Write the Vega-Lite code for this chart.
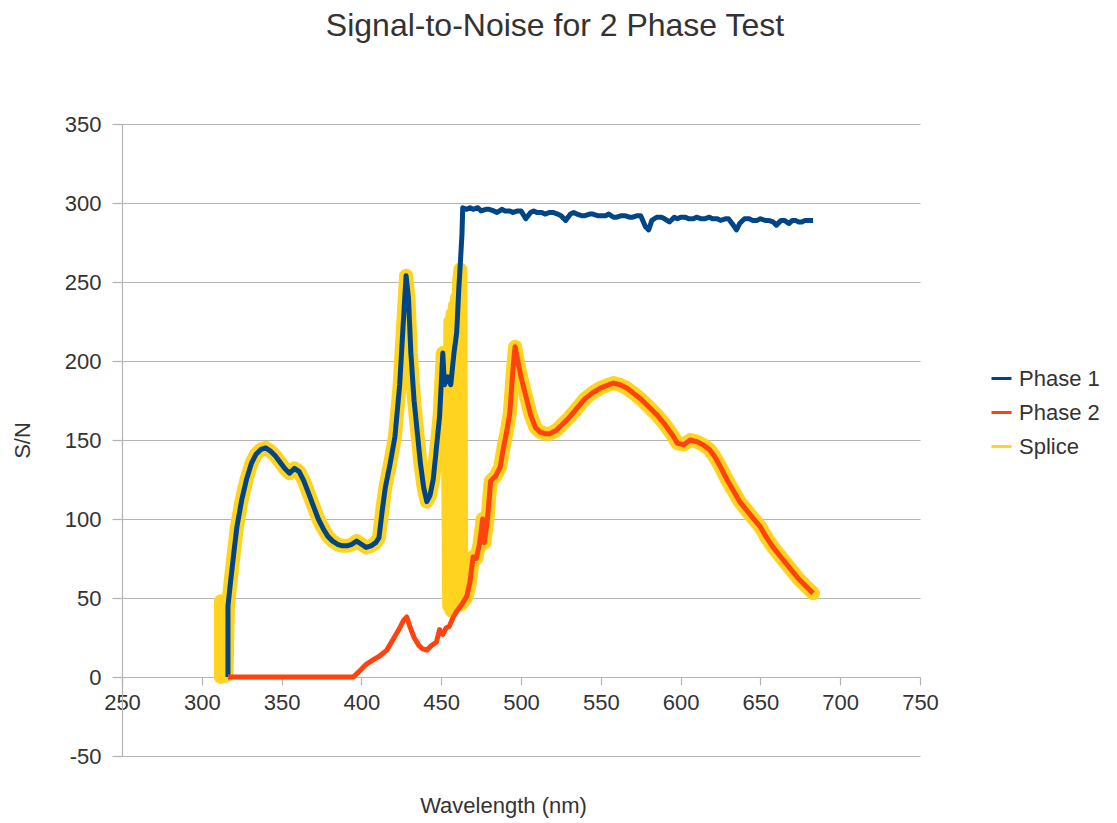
{
  "$schema": "https://vega.github.io/schema/vega-lite/v6.json",
  "width": 798,
  "height": 632,
  "autosize": {"type": "none"},
  "padding": {"left": 122, "top": 124, "right": 197, "bottom": 67},
  "background": "white",
  "title": {
    "text": "Signal-to-Noise for 2 Phase Test",
    "fontSize": 32,
    "font": "Liberation Sans",
    "fontWeight": "normal",
    "color": "#333333",
    "anchor": "middle",
    "frame": "group",
    "dx": 34,
    "offset": 70
  },
  "config": {
    "view": {"stroke": null},
    "font": "Liberation Sans",
    "axis": {
      "labelFont": "Liberation Sans",
      "titleFont": "Liberation Sans",
      "labelColor": "#333333",
      "titleColor": "#333333",
      "labelFontSize": 22,
      "titleFontSize": 22,
      "titleFontWeight": "normal",
      "gridColor": "#b3b3b3",
      "domainColor": "#b3b3b3",
      "tickColor": "#b3b3b3",
      "gridWidth": 1.2,
      "domainWidth": 1.2,
      "tickWidth": 1.2,
      "labelFlush": false,
      "labelOverlap": false
    }
  },
  "data": {
    "values": [
      {"series": "Phase 1", "wl": 316.4, "sn": 0},
      {"series": "Phase 1", "wl": 316.4, "sn": 45},
      {"series": "Phase 1", "wl": 318, "sn": 60},
      {"series": "Phase 1", "wl": 320, "sn": 78},
      {"series": "Phase 1", "wl": 322, "sn": 95},
      {"series": "Phase 1", "wl": 325, "sn": 112},
      {"series": "Phase 1", "wl": 328, "sn": 125},
      {"series": "Phase 1", "wl": 331, "sn": 135},
      {"series": "Phase 1", "wl": 334, "sn": 141},
      {"series": "Phase 1", "wl": 337, "sn": 144},
      {"series": "Phase 1", "wl": 340, "sn": 145},
      {"series": "Phase 1", "wl": 343, "sn": 143},
      {"series": "Phase 1", "wl": 346, "sn": 140},
      {"series": "Phase 1", "wl": 349, "sn": 136},
      {"series": "Phase 1", "wl": 352, "sn": 132},
      {"series": "Phase 1", "wl": 355, "sn": 129},
      {"series": "Phase 1", "wl": 358, "sn": 132},
      {"series": "Phase 1", "wl": 361, "sn": 130},
      {"series": "Phase 1", "wl": 364, "sn": 124},
      {"series": "Phase 1", "wl": 367, "sn": 116},
      {"series": "Phase 1", "wl": 370, "sn": 108},
      {"series": "Phase 1", "wl": 373, "sn": 100},
      {"series": "Phase 1", "wl": 376, "sn": 94},
      {"series": "Phase 1", "wl": 379, "sn": 89},
      {"series": "Phase 1", "wl": 382, "sn": 86},
      {"series": "Phase 1", "wl": 385, "sn": 84},
      {"series": "Phase 1", "wl": 388, "sn": 83},
      {"series": "Phase 1", "wl": 391, "sn": 83},
      {"series": "Phase 1", "wl": 394, "sn": 84},
      {"series": "Phase 1", "wl": 397, "sn": 86},
      {"series": "Phase 1", "wl": 400, "sn": 84},
      {"series": "Phase 1", "wl": 403, "sn": 82},
      {"series": "Phase 1", "wl": 406, "sn": 83},
      {"series": "Phase 1", "wl": 409, "sn": 85},
      {"series": "Phase 1", "wl": 411, "sn": 88},
      {"series": "Phase 1", "wl": 413, "sn": 105},
      {"series": "Phase 1", "wl": 415, "sn": 120},
      {"series": "Phase 1", "wl": 418, "sn": 135},
      {"series": "Phase 1", "wl": 421, "sn": 152},
      {"series": "Phase 1", "wl": 424, "sn": 185},
      {"series": "Phase 1", "wl": 426, "sn": 220},
      {"series": "Phase 1", "wl": 428, "sn": 254},
      {"series": "Phase 1", "wl": 429.5, "sn": 240},
      {"series": "Phase 1", "wl": 431, "sn": 205},
      {"series": "Phase 1", "wl": 433, "sn": 175},
      {"series": "Phase 1", "wl": 435, "sn": 155},
      {"series": "Phase 1", "wl": 437, "sn": 135},
      {"series": "Phase 1", "wl": 439, "sn": 120},
      {"series": "Phase 1", "wl": 441, "sn": 111},
      {"series": "Phase 1", "wl": 443, "sn": 115},
      {"series": "Phase 1", "wl": 445, "sn": 125},
      {"series": "Phase 1", "wl": 447, "sn": 145},
      {"series": "Phase 1", "wl": 449, "sn": 165},
      {"series": "Phase 1", "wl": 451, "sn": 205},
      {"series": "Phase 1", "wl": 452, "sn": 185},
      {"series": "Phase 1", "wl": 454, "sn": 190},
      {"series": "Phase 1", "wl": 456, "sn": 185},
      {"series": "Phase 1", "wl": 458, "sn": 205},
      {"series": "Phase 1", "wl": 459.7, "sn": 218},
      {"series": "Phase 1", "wl": 461, "sn": 245},
      {"series": "Phase 1", "wl": 462, "sn": 262},
      {"series": "Phase 1", "wl": 463, "sn": 280},
      {"series": "Phase 1", "wl": 463.5, "sn": 297},
      {"series": "Phase 1", "wl": 466, "sn": 296},
      {"series": "Phase 1", "wl": 468, "sn": 297},
      {"series": "Phase 1", "wl": 470, "sn": 296},
      {"series": "Phase 1", "wl": 473, "sn": 297},
      {"series": "Phase 1", "wl": 475, "sn": 295},
      {"series": "Phase 1", "wl": 478, "sn": 296},
      {"series": "Phase 1", "wl": 480, "sn": 296},
      {"series": "Phase 1", "wl": 483, "sn": 295},
      {"series": "Phase 1", "wl": 485, "sn": 294},
      {"series": "Phase 1", "wl": 488, "sn": 296},
      {"series": "Phase 1", "wl": 490, "sn": 295},
      {"series": "Phase 1", "wl": 493, "sn": 295},
      {"series": "Phase 1", "wl": 495, "sn": 294},
      {"series": "Phase 1", "wl": 498, "sn": 295},
      {"series": "Phase 1", "wl": 500, "sn": 295},
      {"series": "Phase 1", "wl": 503, "sn": 290},
      {"series": "Phase 1", "wl": 506, "sn": 294},
      {"series": "Phase 1", "wl": 508, "sn": 295},
      {"series": "Phase 1", "wl": 510, "sn": 294},
      {"series": "Phase 1", "wl": 513, "sn": 294},
      {"series": "Phase 1", "wl": 515, "sn": 293},
      {"series": "Phase 1", "wl": 518, "sn": 294},
      {"series": "Phase 1", "wl": 520, "sn": 294},
      {"series": "Phase 1", "wl": 523, "sn": 293},
      {"series": "Phase 1", "wl": 525, "sn": 292},
      {"series": "Phase 1", "wl": 528, "sn": 289},
      {"series": "Phase 1", "wl": 531, "sn": 293},
      {"series": "Phase 1", "wl": 533, "sn": 294},
      {"series": "Phase 1", "wl": 535, "sn": 293},
      {"series": "Phase 1", "wl": 538, "sn": 292},
      {"series": "Phase 1", "wl": 540, "sn": 292},
      {"series": "Phase 1", "wl": 543, "sn": 293},
      {"series": "Phase 1", "wl": 545, "sn": 293},
      {"series": "Phase 1", "wl": 548, "sn": 292},
      {"series": "Phase 1", "wl": 550, "sn": 292},
      {"series": "Phase 1", "wl": 553, "sn": 292},
      {"series": "Phase 1", "wl": 555, "sn": 293},
      {"series": "Phase 1", "wl": 558, "sn": 291},
      {"series": "Phase 1", "wl": 560, "sn": 291},
      {"series": "Phase 1", "wl": 563, "sn": 292},
      {"series": "Phase 1", "wl": 565, "sn": 292},
      {"series": "Phase 1", "wl": 568, "sn": 291},
      {"series": "Phase 1", "wl": 570, "sn": 291},
      {"series": "Phase 1", "wl": 573, "sn": 292},
      {"series": "Phase 1", "wl": 575, "sn": 292},
      {"series": "Phase 1", "wl": 578, "sn": 285},
      {"series": "Phase 1", "wl": 580, "sn": 283},
      {"series": "Phase 1", "wl": 582, "sn": 289},
      {"series": "Phase 1", "wl": 585, "sn": 291},
      {"series": "Phase 1", "wl": 588, "sn": 291},
      {"series": "Phase 1", "wl": 590, "sn": 290},
      {"series": "Phase 1", "wl": 593, "sn": 288},
      {"series": "Phase 1", "wl": 596, "sn": 291},
      {"series": "Phase 1", "wl": 598, "sn": 290},
      {"series": "Phase 1", "wl": 600, "sn": 291},
      {"series": "Phase 1", "wl": 603, "sn": 291},
      {"series": "Phase 1", "wl": 605, "sn": 290},
      {"series": "Phase 1", "wl": 608, "sn": 290},
      {"series": "Phase 1", "wl": 610, "sn": 291},
      {"series": "Phase 1", "wl": 613, "sn": 290},
      {"series": "Phase 1", "wl": 615, "sn": 290},
      {"series": "Phase 1", "wl": 618, "sn": 291},
      {"series": "Phase 1", "wl": 620, "sn": 290},
      {"series": "Phase 1", "wl": 623, "sn": 290},
      {"series": "Phase 1", "wl": 625, "sn": 289},
      {"series": "Phase 1", "wl": 628, "sn": 290},
      {"series": "Phase 1", "wl": 630, "sn": 290},
      {"series": "Phase 1", "wl": 633, "sn": 286},
      {"series": "Phase 1", "wl": 635, "sn": 283},
      {"series": "Phase 1", "wl": 637, "sn": 287},
      {"series": "Phase 1", "wl": 640, "sn": 290},
      {"series": "Phase 1", "wl": 643, "sn": 290},
      {"series": "Phase 1", "wl": 645, "sn": 289},
      {"series": "Phase 1", "wl": 648, "sn": 289},
      {"series": "Phase 1", "wl": 650, "sn": 290},
      {"series": "Phase 1", "wl": 653, "sn": 289},
      {"series": "Phase 1", "wl": 655, "sn": 289},
      {"series": "Phase 1", "wl": 658, "sn": 288},
      {"series": "Phase 1", "wl": 660, "sn": 286},
      {"series": "Phase 1", "wl": 663, "sn": 289},
      {"series": "Phase 1", "wl": 665, "sn": 289},
      {"series": "Phase 1", "wl": 668, "sn": 287},
      {"series": "Phase 1", "wl": 670, "sn": 289},
      {"series": "Phase 1", "wl": 672, "sn": 289},
      {"series": "Phase 1", "wl": 674, "sn": 288},
      {"series": "Phase 1", "wl": 676, "sn": 288},
      {"series": "Phase 1", "wl": 678, "sn": 289},
      {"series": "Phase 1", "wl": 680, "sn": 289},
      {"series": "Phase 1", "wl": 683, "sn": 289},

      {"series": "Phase 2", "wl": 316.4, "sn": 0},
      {"series": "Phase 2", "wl": 395, "sn": 0},
      {"series": "Phase 2", "wl": 399, "sn": 4},
      {"series": "Phase 2", "wl": 403, "sn": 8},
      {"series": "Phase 2", "wl": 407.5, "sn": 11},
      {"series": "Phase 2", "wl": 411, "sn": 13},
      {"series": "Phase 2", "wl": 415.9, "sn": 17},
      {"series": "Phase 2", "wl": 420, "sn": 24},
      {"series": "Phase 2", "wl": 424, "sn": 31},
      {"series": "Phase 2", "wl": 426.5, "sn": 36},
      {"series": "Phase 2", "wl": 428.4, "sn": 38},
      {"series": "Phase 2", "wl": 430, "sn": 33},
      {"series": "Phase 2", "wl": 433, "sn": 25},
      {"series": "Phase 2", "wl": 436, "sn": 20},
      {"series": "Phase 2", "wl": 438, "sn": 18},
      {"series": "Phase 2", "wl": 441, "sn": 17},
      {"series": "Phase 2", "wl": 444, "sn": 20},
      {"series": "Phase 2", "wl": 447, "sn": 22},
      {"series": "Phase 2", "wl": 449, "sn": 30},
      {"series": "Phase 2", "wl": 451, "sn": 27},
      {"series": "Phase 2", "wl": 453, "sn": 31},
      {"series": "Phase 2", "wl": 455, "sn": 32},
      {"series": "Phase 2", "wl": 457.6, "sn": 38},
      {"series": "Phase 2", "wl": 460, "sn": 42},
      {"series": "Phase 2", "wl": 463, "sn": 46},
      {"series": "Phase 2", "wl": 466, "sn": 51},
      {"series": "Phase 2", "wl": 468, "sn": 60},
      {"series": "Phase 2", "wl": 470, "sn": 76},
      {"series": "Phase 2", "wl": 472, "sn": 75},
      {"series": "Phase 2", "wl": 474, "sn": 84},
      {"series": "Phase 2", "wl": 476, "sn": 100},
      {"series": "Phase 2", "wl": 477, "sn": 85},
      {"series": "Phase 2", "wl": 479, "sn": 100},
      {"series": "Phase 2", "wl": 481, "sn": 124},
      {"series": "Phase 2", "wl": 484, "sn": 127},
      {"series": "Phase 2", "wl": 487, "sn": 133},
      {"series": "Phase 2", "wl": 489, "sn": 145},
      {"series": "Phase 2", "wl": 491, "sn": 155},
      {"series": "Phase 2", "wl": 493, "sn": 167},
      {"series": "Phase 2", "wl": 495, "sn": 195},
      {"series": "Phase 2", "wl": 496.3, "sn": 209},
      {"series": "Phase 2", "wl": 498, "sn": 200},
      {"series": "Phase 2", "wl": 500, "sn": 190},
      {"series": "Phase 2", "wl": 503, "sn": 178},
      {"series": "Phase 2", "wl": 506, "sn": 166},
      {"series": "Phase 2", "wl": 509, "sn": 158},
      {"series": "Phase 2", "wl": 512, "sn": 155},
      {"series": "Phase 2", "wl": 515, "sn": 154},
      {"series": "Phase 2", "wl": 518, "sn": 154},
      {"series": "Phase 2", "wl": 522, "sn": 156},
      {"series": "Phase 2", "wl": 526, "sn": 160},
      {"series": "Phase 2", "wl": 530, "sn": 164},
      {"series": "Phase 2", "wl": 535, "sn": 170},
      {"series": "Phase 2", "wl": 540, "sn": 176},
      {"series": "Phase 2", "wl": 545, "sn": 180},
      {"series": "Phase 2", "wl": 550, "sn": 183},
      {"series": "Phase 2", "wl": 555, "sn": 185},
      {"series": "Phase 2", "wl": 558, "sn": 186},
      {"series": "Phase 2", "wl": 562, "sn": 185},
      {"series": "Phase 2", "wl": 566, "sn": 183},
      {"series": "Phase 2", "wl": 570, "sn": 180},
      {"series": "Phase 2", "wl": 575, "sn": 176},
      {"series": "Phase 2", "wl": 580, "sn": 171},
      {"series": "Phase 2", "wl": 585, "sn": 166},
      {"series": "Phase 2", "wl": 590, "sn": 160},
      {"series": "Phase 2", "wl": 595, "sn": 153},
      {"series": "Phase 2", "wl": 598, "sn": 148},
      {"series": "Phase 2", "wl": 602, "sn": 147},
      {"series": "Phase 2", "wl": 606, "sn": 150},
      {"series": "Phase 2", "wl": 610, "sn": 149},
      {"series": "Phase 2", "wl": 614, "sn": 147},
      {"series": "Phase 2", "wl": 618, "sn": 144},
      {"series": "Phase 2", "wl": 621, "sn": 140},
      {"series": "Phase 2", "wl": 625, "sn": 133},
      {"series": "Phase 2", "wl": 629, "sn": 125},
      {"series": "Phase 2", "wl": 633, "sn": 118},
      {"series": "Phase 2", "wl": 637, "sn": 111},
      {"series": "Phase 2", "wl": 641, "sn": 106},
      {"series": "Phase 2", "wl": 645, "sn": 101},
      {"series": "Phase 2", "wl": 650, "sn": 95},
      {"series": "Phase 2", "wl": 654, "sn": 88},
      {"series": "Phase 2", "wl": 658, "sn": 82},
      {"series": "Phase 2", "wl": 662, "sn": 77},
      {"series": "Phase 2", "wl": 666, "sn": 72},
      {"series": "Phase 2", "wl": 670, "sn": 67},
      {"series": "Phase 2", "wl": 674, "sn": 62},
      {"series": "Phase 2", "wl": 678, "sn": 58},
      {"series": "Phase 2", "wl": 683, "sn": 53},

      {"series": "Splice", "wl": 312, "sn": 0},
      {"series": "Splice", "wl": 312, "sn": 48},
      {"series": "Splice", "wl": 313.5, "sn": 2},
      {"series": "Splice", "wl": 314.5, "sn": 46},
      {"series": "Splice", "wl": 315.5, "sn": 1},
      {"series": "Splice", "wl": 316.4, "sn": 45},
      {"series": "Splice", "wl": 318, "sn": 60},
      {"series": "Splice", "wl": 320, "sn": 78},
      {"series": "Splice", "wl": 322, "sn": 95},
      {"series": "Splice", "wl": 325, "sn": 112},
      {"series": "Splice", "wl": 328, "sn": 125},
      {"series": "Splice", "wl": 331, "sn": 135},
      {"series": "Splice", "wl": 334, "sn": 141},
      {"series": "Splice", "wl": 337, "sn": 144},
      {"series": "Splice", "wl": 340, "sn": 145},
      {"series": "Splice", "wl": 343, "sn": 143},
      {"series": "Splice", "wl": 346, "sn": 140},
      {"series": "Splice", "wl": 349, "sn": 136},
      {"series": "Splice", "wl": 352, "sn": 132},
      {"series": "Splice", "wl": 355, "sn": 129},
      {"series": "Splice", "wl": 358, "sn": 132},
      {"series": "Splice", "wl": 361, "sn": 130},
      {"series": "Splice", "wl": 364, "sn": 124},
      {"series": "Splice", "wl": 367, "sn": 116},
      {"series": "Splice", "wl": 370, "sn": 108},
      {"series": "Splice", "wl": 373, "sn": 100},
      {"series": "Splice", "wl": 376, "sn": 94},
      {"series": "Splice", "wl": 379, "sn": 89},
      {"series": "Splice", "wl": 382, "sn": 86},
      {"series": "Splice", "wl": 385, "sn": 84},
      {"series": "Splice", "wl": 388, "sn": 83},
      {"series": "Splice", "wl": 391, "sn": 83},
      {"series": "Splice", "wl": 394, "sn": 84},
      {"series": "Splice", "wl": 397, "sn": 86},
      {"series": "Splice", "wl": 400, "sn": 84},
      {"series": "Splice", "wl": 403, "sn": 82},
      {"series": "Splice", "wl": 406, "sn": 83},
      {"series": "Splice", "wl": 409, "sn": 85},
      {"series": "Splice", "wl": 411, "sn": 88},
      {"series": "Splice", "wl": 413, "sn": 105},
      {"series": "Splice", "wl": 415, "sn": 120},
      {"series": "Splice", "wl": 418, "sn": 135},
      {"series": "Splice", "wl": 421, "sn": 152},
      {"series": "Splice", "wl": 424, "sn": 185},
      {"series": "Splice", "wl": 426, "sn": 220},
      {"series": "Splice", "wl": 428, "sn": 254},
      {"series": "Splice", "wl": 429.5, "sn": 240},
      {"series": "Splice", "wl": 431, "sn": 205},
      {"series": "Splice", "wl": 433, "sn": 175},
      {"series": "Splice", "wl": 435, "sn": 155},
      {"series": "Splice", "wl": 437, "sn": 135},
      {"series": "Splice", "wl": 439, "sn": 120},
      {"series": "Splice", "wl": 441, "sn": 111},
      {"series": "Splice", "wl": 443, "sn": 115},
      {"series": "Splice", "wl": 445, "sn": 125},
      {"series": "Splice", "wl": 447, "sn": 145},
      {"series": "Splice", "wl": 449, "sn": 165},
      {"series": "Splice", "wl": 451, "sn": 205},
      {"series": "Splice", "wl": 452, "sn": 185},
      {"series": "Splice", "wl": 454, "sn": 190},
      {"series": "Splice", "wl": 455, "sn": 45},
      {"series": "Splice", "wl": 455.7, "sn": 225},
      {"series": "Splice", "wl": 456.4, "sn": 42},
      {"series": "Splice", "wl": 457.1, "sn": 230},
      {"series": "Splice", "wl": 457.8, "sn": 45},
      {"series": "Splice", "wl": 458.5, "sn": 235},
      {"series": "Splice", "wl": 459.2, "sn": 48},
      {"series": "Splice", "wl": 459.9, "sn": 240},
      {"series": "Splice", "wl": 460.5, "sn": 46},
      {"series": "Splice", "wl": 461.2, "sn": 250},
      {"series": "Splice", "wl": 462, "sn": 258},
      {"series": "Splice", "wl": 462.6, "sn": 46},
      {"series": "Splice", "wl": 466, "sn": 51},
      {"series": "Splice", "wl": 468, "sn": 60},
      {"series": "Splice", "wl": 470, "sn": 76},
      {"series": "Splice", "wl": 472, "sn": 75},
      {"series": "Splice", "wl": 474, "sn": 84},
      {"series": "Splice", "wl": 476, "sn": 100},
      {"series": "Splice", "wl": 477, "sn": 85},
      {"series": "Splice", "wl": 479, "sn": 100},
      {"series": "Splice", "wl": 481, "sn": 124},
      {"series": "Splice", "wl": 484, "sn": 127},
      {"series": "Splice", "wl": 487, "sn": 133},
      {"series": "Splice", "wl": 489, "sn": 145},
      {"series": "Splice", "wl": 491, "sn": 155},
      {"series": "Splice", "wl": 493, "sn": 167},
      {"series": "Splice", "wl": 495, "sn": 195},
      {"series": "Splice", "wl": 496.3, "sn": 209},
      {"series": "Splice", "wl": 498, "sn": 200},
      {"series": "Splice", "wl": 500, "sn": 190},
      {"series": "Splice", "wl": 503, "sn": 178},
      {"series": "Splice", "wl": 506, "sn": 166},
      {"series": "Splice", "wl": 509, "sn": 158},
      {"series": "Splice", "wl": 512, "sn": 155},
      {"series": "Splice", "wl": 515, "sn": 154},
      {"series": "Splice", "wl": 518, "sn": 154},
      {"series": "Splice", "wl": 522, "sn": 156},
      {"series": "Splice", "wl": 526, "sn": 160},
      {"series": "Splice", "wl": 530, "sn": 164},
      {"series": "Splice", "wl": 535, "sn": 170},
      {"series": "Splice", "wl": 540, "sn": 176},
      {"series": "Splice", "wl": 545, "sn": 180},
      {"series": "Splice", "wl": 550, "sn": 183},
      {"series": "Splice", "wl": 555, "sn": 185},
      {"series": "Splice", "wl": 558, "sn": 186},
      {"series": "Splice", "wl": 562, "sn": 185},
      {"series": "Splice", "wl": 566, "sn": 183},
      {"series": "Splice", "wl": 570, "sn": 180},
      {"series": "Splice", "wl": 575, "sn": 176},
      {"series": "Splice", "wl": 580, "sn": 171},
      {"series": "Splice", "wl": 585, "sn": 166},
      {"series": "Splice", "wl": 590, "sn": 160},
      {"series": "Splice", "wl": 595, "sn": 153},
      {"series": "Splice", "wl": 598, "sn": 148},
      {"series": "Splice", "wl": 602, "sn": 147},
      {"series": "Splice", "wl": 606, "sn": 150},
      {"series": "Splice", "wl": 610, "sn": 149},
      {"series": "Splice", "wl": 614, "sn": 147},
      {"series": "Splice", "wl": 618, "sn": 144},
      {"series": "Splice", "wl": 621, "sn": 140},
      {"series": "Splice", "wl": 625, "sn": 133},
      {"series": "Splice", "wl": 629, "sn": 125},
      {"series": "Splice", "wl": 633, "sn": 118},
      {"series": "Splice", "wl": 637, "sn": 111},
      {"series": "Splice", "wl": 641, "sn": 106},
      {"series": "Splice", "wl": 645, "sn": 101},
      {"series": "Splice", "wl": 650, "sn": 95},
      {"series": "Splice", "wl": 654, "sn": 88},
      {"series": "Splice", "wl": 658, "sn": 82},
      {"series": "Splice", "wl": 662, "sn": 77},
      {"series": "Splice", "wl": 666, "sn": 72},
      {"series": "Splice", "wl": 670, "sn": 67},
      {"series": "Splice", "wl": 674, "sn": 62},
      {"series": "Splice", "wl": 678, "sn": 58},
      {"series": "Splice", "wl": 683, "sn": 53}
    ]
  },
  "encoding": {
    "x": {
      "field": "wl",
      "type": "quantitative",
      "title": "Wavelength (nm)",
      "scale": {"domain": [250, 750], "nice": false, "zero": false},
      "axis": {
        "values": [250, 300, 350, 400, 450, 500, 550, 600, 650, 700, 750],
        "grid": false,
        "offset": -79,
        "tickSize": 8,
        "labelPadding": 7,
        "titlePadding": 82,
        "titleX": 381,
        "labelExpr": "replace(datum.label, '\u2212', '-')"
      }
    },
    "y": {
      "field": "sn",
      "type": "quantitative",
      "title": "S/N",
      "scale": {"domain": [-50, 350], "nice": false, "zero": false},
      "axis": {
        "values": [-50, 0, 50, 100, 150, 200, 250, 300, 350],
        "grid": true,
        "tickSize": 10,
        "labelPadding": 11,
        "titlePadding": 30,
        "labelExpr": "replace(datum.label, '\u2212', '-')"
      }
    },
    "color": {
      "field": "series",
      "type": "nominal",
      "scale": {
        "domain": ["Phase 1", "Phase 2", "Splice"],
        "range": ["#004586", "#ff420e", "#ffd320"]
      },
      "legend": {
        "title": null,
        "orient": "none",
        "legendX": 868,
        "legendY": 243,
        "symbolType": "stroke",
        "symbolSize": 400,
        "symbolStrokeWidth": 3,
        "labelFontSize": 22,
        "labelFont": "Liberation Sans",
        "labelColor": "#333333",
        "labelOffset": 6,
        "rowPadding": 11
      }
    }
  },
  "layer": [
    {
      "transform": [{"filter": "datum.series === 'Splice'"}],
      "mark": {"type": "line", "strokeWidth": 14, "strokeJoin": "round", "strokeCap": "round"},
      "encoding": {"order": {"value": null}}
    },
    {
      "transform": [{"filter": "datum.series !== 'Splice'"}],
      "mark": {"type": "line", "strokeWidth": 5, "strokeJoin": "round"},
      "encoding": {"order": {"value": null}}
    }
  ]
}
